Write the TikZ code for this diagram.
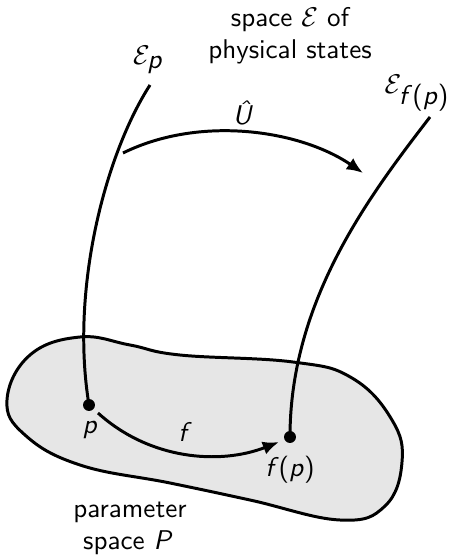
\documentclass[tikz,border=0pt]{standalone}
\usepackage{fontspec}
\usetikzlibrary{arrows.meta}
\newcommand{\mv}[1]{\textsf{\itshape #1}}
\definecolor{blobgray}{HTML}{E6E6E6}
\begin{document}
\begin{tikzpicture}[x=0.369pt,y=-0.369pt,line width=1.1pt,
  dot/.style={circle,fill=black,inner sep=0pt,minimum size=4.4pt},
  lbl/.style={font=\sffamily,inner sep=1pt},
  arr/.style={-{Latex[length=6pt,width=5pt]}}]
\useasboundingbox (0,0) rectangle (455,560);
\draw[fill=blobgray] plot[smooth cycle,tension=0.7] coordinates {
  (7,400) (30,355) (80,337) (130,345) (180,355) (293,362) (352,378)
  (392,420) (402,462) (385,506) (340,520) (250,500) (170,483) (80,465) (25,435)};
\node[dot] (p) at (89,405) {};
\node[dot] (fp) at (290,437) {};
\coordinate (ep) at (150,85);
\coordinate (efp) at (430,117);
\coordinate (us) at (123,153);
\coordinate (ue) at (363,173);
\coordinate (fs) at (98,413);
\coordinate (fe) at (279,442);
\draw (ep) .. controls (105,155) and (70,290) .. (p.center);
\draw (efp) .. controls (370,195) and (290,300) .. (fp.center);
\draw[arr] (us) .. controls (200,115) and (300,130) .. (ue);
\draw[arr] (fs) .. controls (150,460) and (220,465) .. (fe);
\node[lbl] (t1) at (290,20) {space $\mathcal{E}$ of};
\node[lbl] (t2) at (290,52) {physical states};
\node[lbl] (lep) at (148,60) {$\mathcal{E}_{\mv{p}}$};
\node[lbl,anchor=east] (lefp) at (454,93) {$\mathcal{E}_{\textsf{\mv{f}(\mv{p})}}$};
\node[lbl] (lu) at (243,113) {\mv{\^U}};
\node[lbl] (lf) at (185,432) {\mv{f}};
\node[lbl] (lp) at (90,430) {\mv{p}};
\node[lbl] (lfp) at (290,470) {\mv{f}(\mv{p})};
\node[lbl] (t3) at (130,512) {parameter};
\node[lbl] (t4) at (128,543) {space \mv{P}};
\end{tikzpicture}
\end{document}
